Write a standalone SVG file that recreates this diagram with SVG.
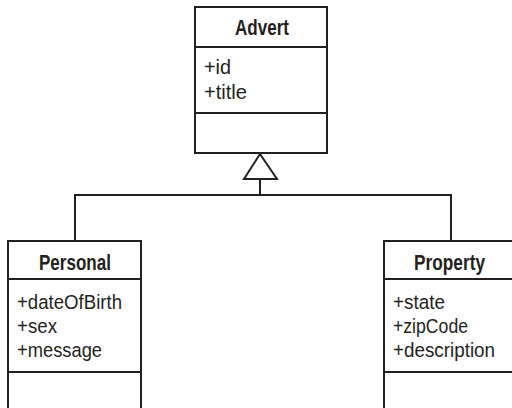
<svg xmlns="http://www.w3.org/2000/svg" width="512" height="408" viewBox="0 0 512 408">
<style>
.box{fill:#fff;stroke:#231f20;stroke-width:2}
.ln{fill:none;stroke:#231f20;stroke-width:2}
.t{font-family:"Liberation Sans Narrow","Liberation Sans",Arial,sans-serif;font-size:20.5px;fill:#231f20}
.b{font-weight:bold;font-size:22px}
</style>
<rect width="512" height="408" fill="#fff"/>
<g id="connectors">
<polyline class="ln" points="75,241 75,195 451,195 451,241"/>
<line class="ln" x1="260" y1="195" x2="260" y2="179"/>
<polygon class="ln" points="260,154 244,179 277,179" fill="#fff"/>
</g>
<g id="advert">
<rect class="box" x="195" y="7" width="132" height="146"/>
<line class="ln" x1="195" y1="47" x2="327" y2="47"/>
<line class="ln" x1="195" y1="113" x2="327" y2="113"/>
<text class="t b" x="235" y="35" textLength="54" lengthAdjust="spacingAndGlyphs">Advert</text>
<text class="t" x="204" y="74" textLength="27" lengthAdjust="spacingAndGlyphs">+id</text>
<text class="t" x="204" y="98.5" textLength="43" lengthAdjust="spacingAndGlyphs">+title</text>
</g>
<g id="personal">
<rect class="box" x="8" y="241" width="133" height="200"/>
<line class="ln" x1="8" y1="279" x2="141" y2="279"/>
<line class="ln" x1="8" y1="372" x2="141" y2="372"/>
<text class="t b" x="39" y="269.5" textLength="72" lengthAdjust="spacingAndGlyphs">Personal</text>
<text class="t" x="17" y="308.5" textLength="105" lengthAdjust="spacingAndGlyphs">+dateOfBirth</text>
<text class="t" x="17" y="332.5" textLength="40" lengthAdjust="spacingAndGlyphs">+sex</text>
<text class="t" x="17" y="356.5" textLength="85" lengthAdjust="spacingAndGlyphs">+message</text>
</g>
<g id="property">
<rect class="box" x="384" y="241" width="133" height="200"/>
<line class="ln" x1="384" y1="279" x2="517" y2="279"/>
<line class="ln" x1="384" y1="372" x2="517" y2="372"/>
<text class="t b" x="414" y="269.5" textLength="71" lengthAdjust="spacingAndGlyphs">Property</text>
<text class="t" x="393" y="308.5" textLength="52" lengthAdjust="spacingAndGlyphs">+state</text>
<text class="t" x="393" y="332.5" textLength="75" lengthAdjust="spacingAndGlyphs">+zipCode</text>
<text class="t" x="393" y="356.5" textLength="102" lengthAdjust="spacingAndGlyphs">+description</text>
</g>
</svg>
